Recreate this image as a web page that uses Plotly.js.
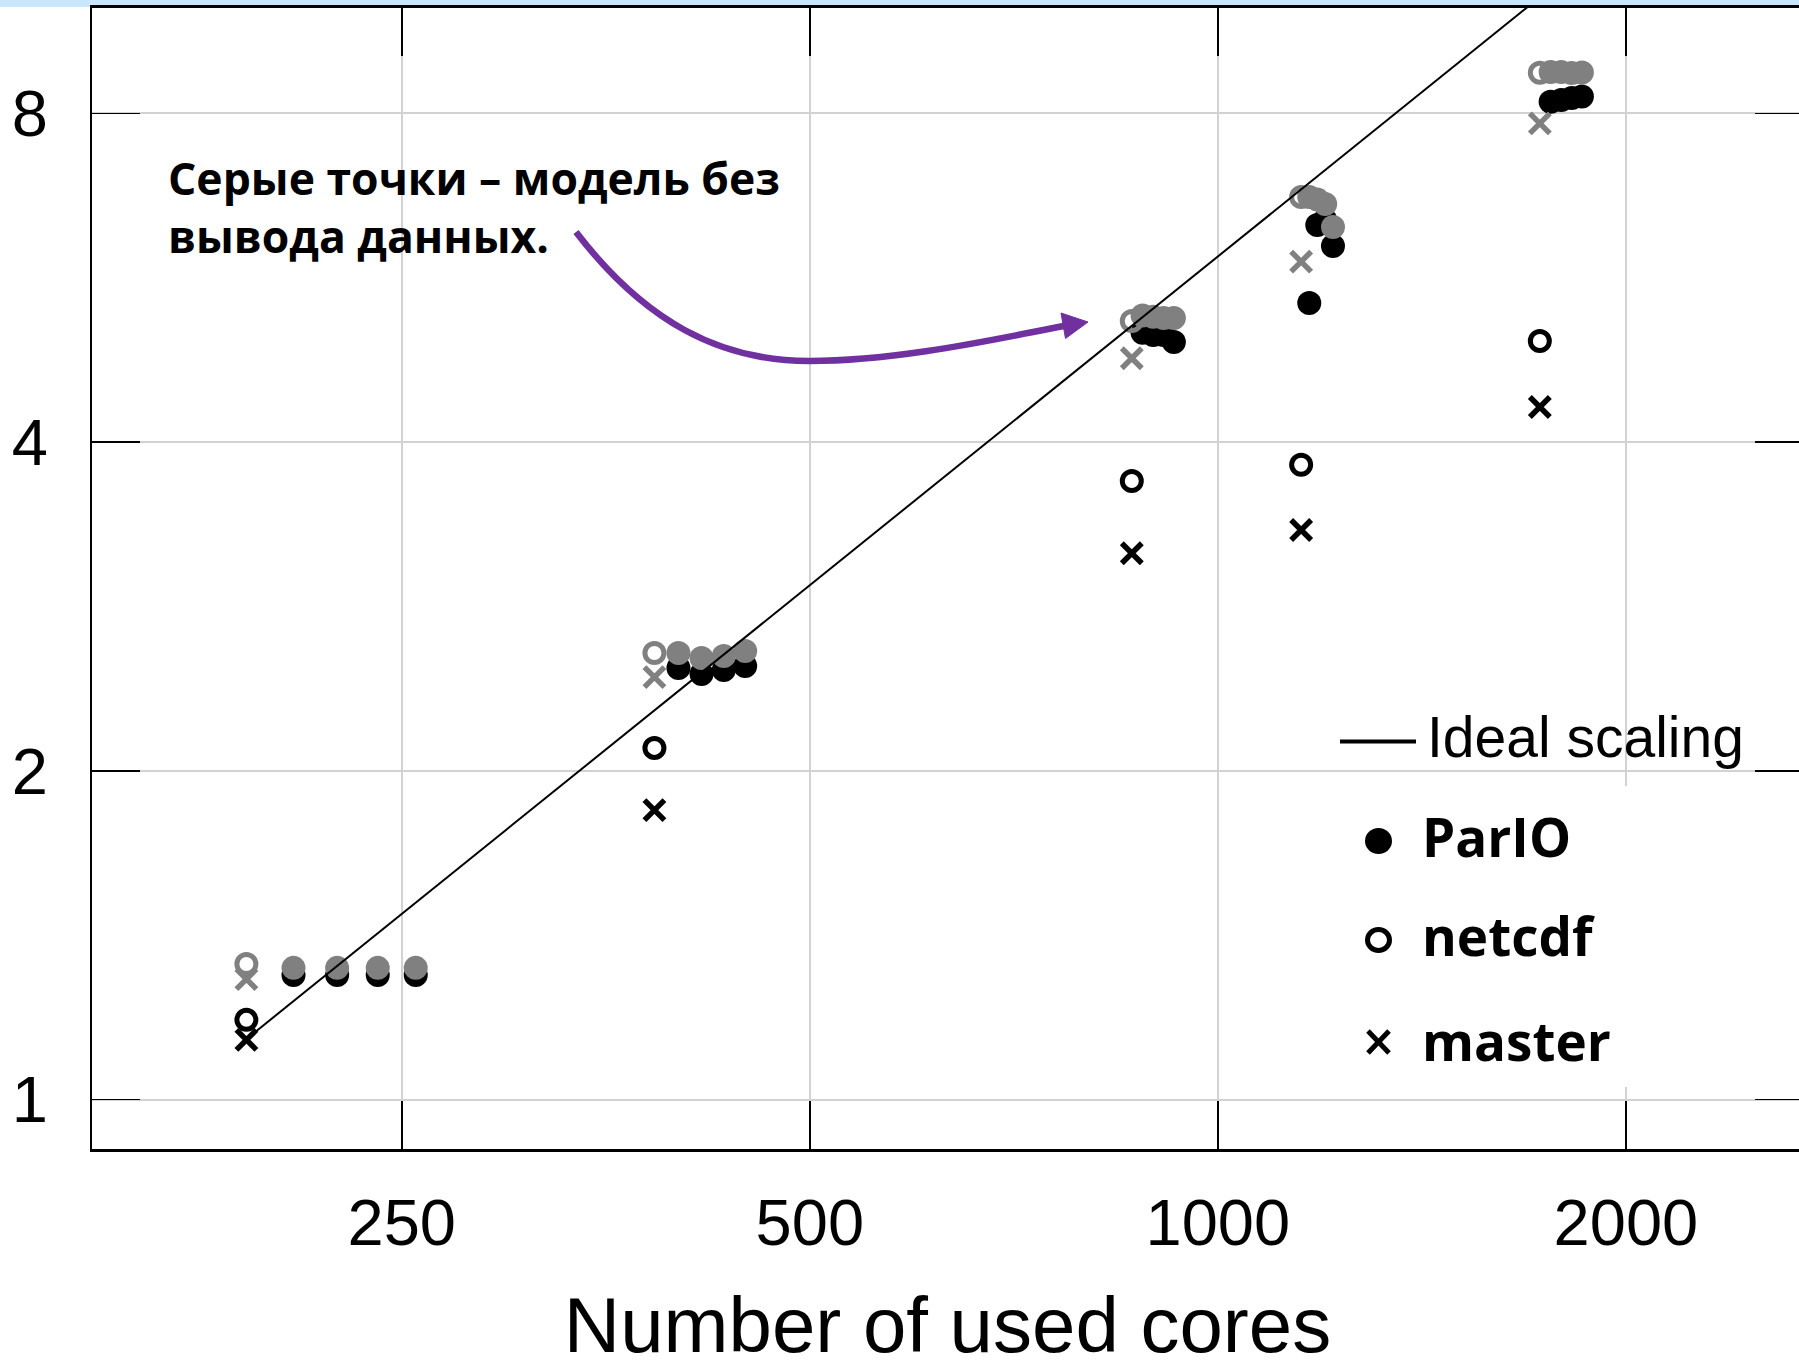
<!DOCTYPE html>
<html><head><meta charset="utf-8">
<script src="https://cdn.plot.ly/plotly-3.0.1.min.js"></script>
<style>html,body{margin:0;padding:0;overflow:hidden;background:#fff}</style>
</head><body><div id="chart"></div>
<script>
// ---------- data ----------
const groupCores     = [192, 384, 864, 1152, 1728];
const parioCores     = [208,224,240,256, 400,416,432,448, 880,896,912,928, 1168,1184,1200,1216, 1760,1792,1824,1856];
const parioSpeedup   = [1.300,1.300,1.300,1.300, 2.484,2.453,2.474,2.495, 5.038,5.014,5.014,4.940, 5.364,6.322,6.39,6.049, 8.20,8.23,8.265,8.29];
const netcdfSpeedup  = [1.183, 2.099, 3.685, 3.814, 4.951];
const masterSpeedup  = [1.134, 1.841, 3.164, 3.323, 4.307];
const parioNoOutput  = [1.320,1.320,1.320,1.320, 2.564,2.537,2.548,2.575, 5.224,5.211,5.197,5.197, 6.708,6.671,6.609,6.296, 8.73,8.73,8.71,8.72];
const netcdfNoOutput = [1.331, 2.564, 5.164, 6.708, 8.717];
const masterNoOutput = [1.289, 2.437, 4.773, 5.852, 7.834];
const idealCores     = [192, 2304];
const idealSpeedup   = [1.136, 13.63];
const xTickVals = [250, 500, 1000, 2000];
const xTickText = ['250', '500', '1000', '2000'];
const yTickVals = [1, 2, 4, 8];
const yTickText = ['1', '2', '4', '8'];
const legendLabels = ['Ideal scaling', 'ParIO', 'netcdf', 'master'];
const xTitle = 'Number of used cores';
const noteText = 'Серые точки – модель без<br>вывода данных.';

// ---------- styling / geometry ----------
const BLACK = '#000000', GRAY = '#808080', PURPLE = '#7030A0';
const HEL = 'Liberation Sans, Arial, Helvetica, sans-serif';
const CAL = '"Open Sans", "Noto Sans", sans-serif';
const FIG_W = 1830, FIG_H = 1380;
const L = 92, R = 1803, T = 8, B = 1149;
const W = R - L, H = B - T;
const px = x => (x - L) / W;
const py = y => (B - y) / H;

function pt(x, y) { return px(x).toFixed(5) + ',' + py(y).toFixed(5); }

const filled = (c) => ({symbol: 'circle', size: 24, color: c, line: {width: 0}});
const ring = (c) => ({symbol: 'circle-open', size: 19, color: c, line: {width: 5, color: c}});
const cross = (c) => ({symbol: 'x-thin-open', size: 20, color: c, line: {width: 5.5, color: c}});

const traces = [
  {x: parioCores, y: parioSpeedup, mode: 'markers', marker: filled(BLACK), name: 'ParIO'},
  {x: groupCores, y: netcdfSpeedup, mode: 'markers', marker: ring(BLACK), name: 'netcdf'},
  {x: groupCores, y: masterSpeedup, mode: 'markers', marker: cross(BLACK), name: 'master'},
  {x: groupCores, y: netcdfNoOutput, mode: 'markers', marker: ring(GRAY), name: 'netcdf (no output)'},
  {x: groupCores, y: masterNoOutput, mode: 'markers', marker: cross(GRAY), name: 'master (no output)'},
  {x: parioCores, y: parioNoOutput, mode: 'markers', marker: filled(GRAY), name: 'ParIO (no output)'},
  {x: idealCores, y: idealSpeedup, mode: 'lines', line: {color: BLACK, width: 2}, name: 'Ideal scaling'}
];
traces.forEach(t => { t.type = 'scatter'; t.showlegend = false; t.hoverinfo = 'skip'; });

const arrowPath = 'M' + pt(576, 232) +
  ' C' + pt(645, 322) + ' ' + pt(720, 361) + ' ' + pt(809, 361) +
  ' C' + pt(900, 361) + ' ' + pt(1000, 338) + ' ' + pt(1064, 326);
const headPath = 'M' + pt(1088, 322) + ' L' + pt(1061, 313) + ' L' + pt(1065.5, 338.5) + ' Z';

const shapes = [
  {type: 'rect', xref: 'paper', yref: 'paper', x0: -0.1, x1: 1.1, y0: py(7), y1: py(-3),
   fillcolor: '#C9E6FA', line: {width: 0}, layer: 'below'},
  {type: 'rect', xref: 'paper', yref: 'paper', x0: px(1340), x1: px(1770), y0: py(1087), y1: py(786),
   fillcolor: '#ffffff', line: {width: 0}, layer: 'above'},
  {type: 'line', xref: 'paper', yref: 'paper', x0: px(1340), x1: px(1416), y0: py(741.5), y1: py(741.5),
   line: {color: BLACK, width: 4}},
  {type: 'circle', xref: 'paper', yref: 'paper', x0: px(1365), x1: px(1392), y0: py(854), y1: py(828),
   fillcolor: BLACK, line: {width: 0}},
  {type: 'circle', xref: 'paper', yref: 'paper', x0: px(1367.5), x1: px(1389.5), y0: py(950.5), y1: py(929.5),
   line: {color: BLACK, width: 5}},
  {type: 'line', xref: 'paper', yref: 'paper', x0: px(1368), x1: px(1389), y0: py(1031), y1: py(1053),
   line: {color: BLACK, width: 5}},
  {type: 'line', xref: 'paper', yref: 'paper', x0: px(1368), x1: px(1389), y0: py(1053), y1: py(1031),
   line: {color: BLACK, width: 5}},
  {type: 'path', xref: 'paper', yref: 'paper', path: arrowPath, line: {color: PURPLE, width: 6.5}},
  {type: 'path', xref: 'paper', yref: 'paper', path: headPath, fillcolor: PURPLE, line: {color: PURPLE, width: 1}}
];

const ann = (text, x, y, font) => ({text, xref: 'paper', yref: 'paper', x, y, xanchor: 'left', yanchor: 'top',
  align: 'left', showarrow: false, font});
const annotations = [
  ann('<b>' + noteText + '</b>', px(166), py(145), {family: CAL, size: 44.5, color: BLACK}),
  ann(legendLabels[0], px(1425), py(703), {family: HEL, size: 57, color: BLACK}),
  ann('<b>' + legendLabels[1] + '</b>', px(1420), py(798), {family: CAL, size: 53, color: BLACK}),
  ann('<b>' + legendLabels[2] + '</b>', px(1420), py(897), {family: CAL, size: 53, color: BLACK}),
  ann('<b>' + legendLabels[3] + '</b>', px(1420), py(1002), {family: CAL, size: 53, color: BLACK})
];

const axisCommon = {
  type: 'log', showgrid: true, gridcolor: '#d2d2d2', gridwidth: 2,
  ticks: 'inside', ticklen: 48, tickcolor: BLACK, showline: true, linecolor: BLACK,
  mirror: 'ticks', zeroline: false, tickmode: 'array',
  tickfont: {family: HEL, size: 65, color: BLACK}
};

const layout = {
  width: FIG_W, height: FIG_H,
  margin: {l: L, r: FIG_W - R, t: T, b: FIG_H - B, pad: 0},
  paper_bgcolor: '#ffffff', plot_bgcolor: '#ffffff',
  showlegend: false,
  xaxis: Object.assign({}, axisCommon, {
    range: [2.1694, 3.4317], tickvals: xTickVals, ticktext: xTickText,
    tickwidth: 2, linewidth: 3, ticklabelstandoff: 15,
    title: {text: xTitle, font: {family: HEL, size: 78, color: BLACK}, standoff: 40}
  }),
  yaxis: Object.assign({}, axisCommon, {
    range: [-0.0453, 0.9996], tickvals: yTickVals, ticktext: yTickText,
    tickwidth: 1.5, linewidth: 2, ticklabelstandoff: 29
  }),
  shapes, annotations
};

Plotly.newPlot('chart', traces, layout, {staticPlot: true, displayModeBar: false});
</script>
</body></html>
